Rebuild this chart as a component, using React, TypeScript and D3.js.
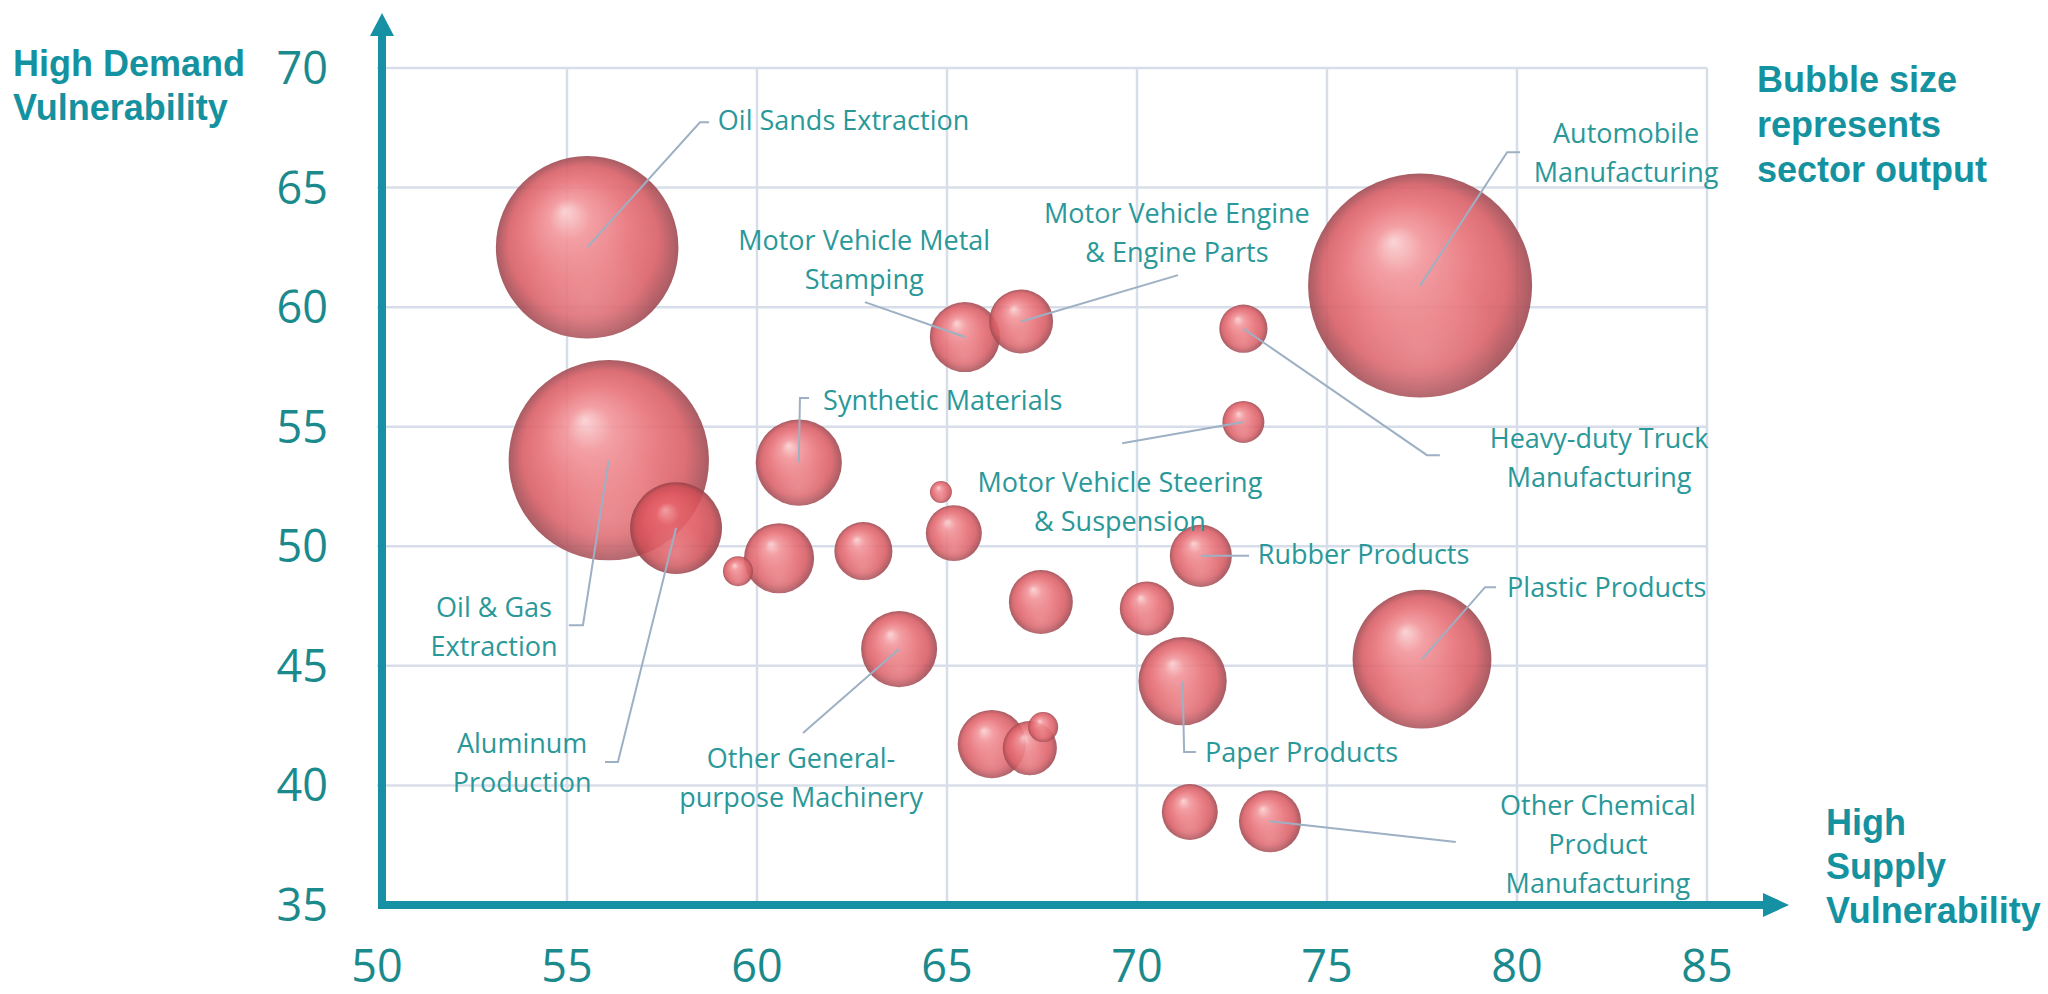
import React from "react";
import * as d3 from "d3";

const W = 2048;
const H = 994;

// Axis ticks
const xTicks = [50, 55, 60, 65, 70, 75, 80, 85];
const yTicks = [35, 40, 45, 50, 55, 60, 65, 70];

// Bubbles: supply vulnerability (x), demand vulnerability (y), sector output (size)
const names = [
  "Automobile Manufacturing",
  "Oil & Gas Extraction",
  "Oil Sands Extraction",
  "Plastic Products",
  "Aluminum Production",
  "Paper Products",
  "Synthetic Materials",
  "Other General-purpose Machinery",
  "Motor Vehicle Metal Stamping",
  "",
  "",
  "Motor Vehicle Engine & Engine Parts",
  "",
  "Rubber Products",
  "Other Chemical Product Manufacturing",
  "",
  "",
  "",
  "",
  "",
  "Heavy-duty Truck Manufacturing",
  "Motor Vehicle Steering & Suspension",
  "",
  "",
  "",
];
const supply = [77.45, 56.1, 55.53, 77.5, 57.87, 71.2, 61.1, 63.74, 65.47, 60.58, 66.18, 66.95, 67.47, 71.68, 73.5, 62.8, 65.18, 71.39, 70.26, 67.18, 72.8, 72.8, 59.5, 67.53, 64.84];
const demand = [60.9, 53.6, 62.5, 45.28, 50.76, 44.36, 53.5, 45.7, 58.75, 49.5, 41.73, 59.4, 47.67, 49.6, 38.5, 49.8, 50.55, 38.89, 47.4, 41.56, 59.1, 55.2, 48.96, 42.44, 52.27];
const output = [125, 100, 83, 48, 21, 19.4, 18.5, 14.4, 12.25, 12.25, 11.6, 10.2, 10.2, 9.6, 9.6, 8.4, 7.8, 7.8, 7.3, 7.3, 5.8, 4.4, 2.25, 2.25, 1.2];

// Annotations (label text lines, anchor, label position in data units, leader points in data units)
const annBubble = [2, 1, 4, 6, 8, 11, 20, 21, 13, 3, 5, 14, 7, 0];
const annLines = [
  ["Oil Sands Extraction"],
  ["Oil & Gas", "Extraction"],
  ["Aluminum", "Production"],
  ["Synthetic Materials"],
  ["Motor Vehicle Metal", "Stamping"],
  ["Motor Vehicle Engine", "& Engine Parts"],
  ["Heavy-duty Truck", "Manufacturing"],
  ["Motor Vehicle Steering", "& Suspension"],
  ["Rubber Products"],
  ["Plastic Products"],
  ["Paper Products"],
  ["Other Chemical", "Product", "Manufacturing"],
  ["Other General-", "purpose Machinery"],
  ["Automobile", "Manufacturing"],
];
const annAnchor = ["start", "middle", "middle", "start", "middle", "middle", "middle", "middle", "start", "start", "start", "middle", "middle", "middle"];
const annTextX = [58.97, 53.08, 53.82, 61.74, 62.82, 71.05, 82.16, 69.55, 73.18, 79.74, 71.79, 82.13, 61.16, 82.87];
const annTextY = [67.82, 47.46, 41.77, 56.11, 62.8, 63.93, 54.52, 52.68, 49.67, 48.29, 41.4, 39.18, 41.15, 67.27];
const annLeader: [number, number][][] = [
  [[58.5, 67.73], [58.74, 67.73]],
  [[55.42, 46.7], [55.05, 46.7]],
  [[56.34, 40.98], [56.0, 40.98]],
  [[61.13, 56.2], [61.37, 56.2]],
  [[62.84, 60.21]],
  [[71.08, 61.34]],
  [[77.63, 53.81], [77.97, 53.81]],
  [[69.61, 54.31]],
  [[72.95, 49.6]],
  [[79.16, 48.29], [79.45, 48.29]],
  [[71.24, 41.4], [71.55, 41.4]],
  [[78.39, 37.63]],
  [[61.21, 42.19]],
  [[79.74, 66.48], [80.08, 66.48]],
];

const AXIS = "#1690a3";
const TICK = "#1b8a8d";
const TITLE = "#1492a0";
const LABEL = "#2a9899";
const GRID = "#d7deea";
const LEADER = "#9eb0c4";
const RED_BUBBLE = 4; // the overlapping Aluminum bubble renders in a deeper red

export default function App() {
  const x = d3.scaleLinear().domain([50, 85]).range([377, 1707]);
  const y = d3.scaleLinear().domain([35, 70]).range([905, 68]);
  const r = d3.scaleSqrt().domain([0, 125]).range([0, 112]);

  const idx = d3.range(supply.length).sort((a, b) => output[b] - output[a]);
  const line = d3.line<[number, number]>().x((d) => x(d[0])).y((d) => y(d[1]));

  const axisX = x(50) + 5;
  const axisY = y(35);

  return (
    <div style={{ position: "absolute", left: 0, top: 0, width: W, height: H, background: "#fff" }}>
      <svg width={W} height={H} viewBox={`0 0 ${W} ${H}`} style={{ display: "block" }}>
        <defs>
          <radialGradient id="sphere" cx="0.5" cy="0.5" r="0.5" fx="0.38" fy="0.3">
            <stop offset="0%" stopColor="#fbd0d2" />
            <stop offset="22%" stopColor="#f2969b" />
            <stop offset="55%" stopColor="#e8737a" />
            <stop offset="82%" stopColor="#d95f67" />
            <stop offset="100%" stopColor="#9f4b53" />
          </radialGradient>
          <radialGradient id="sphereRed" cx="0.5" cy="0.5" r="0.5" fx="0.38" fy="0.3">
            <stop offset="0%" stopColor="#f4a4a8" />
            <stop offset="25%" stopColor="#e8656c" />
            <stop offset="60%" stopColor="#de5860" />
            <stop offset="85%" stopColor="#cc4e56" />
            <stop offset="100%" stopColor="#96434a" />
          </radialGradient>
          <radialGradient id="reflect" cx="0.5" cy="0.78" r="0.35">
            <stop offset="0%" stopColor="#f2a2a6" stopOpacity="0.4" />
            <stop offset="100%" stopColor="#f2a2a6" stopOpacity="0" />
          </radialGradient>
        </defs>

        {/* grid */}
        <g>
          {xTicks.filter((t) => t > 50).map((t) => (
            <line key={"gx" + t} x1={x(t)} x2={x(t)} y1={y(70)} y2={y(35)} stroke={GRID} strokeWidth={2.5} />
          ))}
          {yTicks.filter((t) => t > 35).map((t) => (
            <line key={"gy" + t} x1={x(50)} x2={x(85)} y1={y(t)} y2={y(t)} stroke={GRID} strokeWidth={2.5} />
          ))}
        </g>

        {/* bubbles */}
        <g>
          {idx.map((i) => (
            <g key={"b" + i} opacity={0.9}>
              <title>{names[i]}</title>
              <circle
                cx={x(supply[i])}
                cy={y(demand[i])}
                r={r(output[i])}
                fill={i === RED_BUBBLE ? "url(#sphereRed)" : "url(#sphere)"}
              />
              <circle cx={x(supply[i])} cy={y(demand[i])} r={r(output[i])} fill="url(#reflect)" />
            </g>
          ))}
        </g>

        {/* leader lines */}
        <g fill="none" stroke={LEADER} strokeWidth={2}>
          {annBubble.map((bi, k) => (
            <path
              key={"l" + k}
              d={line([[supply[bi], demand[bi]] as [number, number], ...annLeader[k]]) || ""}
            />
          ))}
        </g>

        {/* labels */}
        <g fontFamily="'Open Sans', sans-serif" fontSize={27} fill={LABEL}>
          {annLines.map((lines, k) => (
            <text key={"t" + k} x={x(annTextX[k])} y={y(annTextY[k]) + 10} textAnchor={annAnchor[k] as any}>
              {lines.map((s, j) => (
                <tspan key={j} x={x(annTextX[k])} dy={j === 0 ? 0 : 39}>
                  {s}
                </tspan>
              ))}
            </text>
          ))}
        </g>

        {/* axes */}
        <g fill={AXIS}>
          <line x1={axisX} x2={axisX} y1={axisY + 4} y2={36} stroke={AXIS} strokeWidth={8} />
          <polygon points={`${axisX - 12},36 ${axisX + 12},36 ${axisX},13`} />
          <line x1={axisX - 4} x2={1764} y1={axisY} y2={axisY} stroke={AXIS} strokeWidth={8} />
          <polygon points={`1763,${axisY - 12} 1763,${axisY + 12} 1789,${axisY}`} />
        </g>

        {/* tick labels */}
        <g fontFamily="'Open Sans', sans-serif" fontSize={45} fill={TICK}>
          {yTicks.map((t) => (
            <text key={"yt" + t} x={328} y={y(t) + 16} textAnchor="end">
              {t}
            </text>
          ))}
          {xTicks.map((t) => (
            <text key={"xt" + t} x={x(t)} y={982} textAnchor="middle">
              {t}
            </text>
          ))}
        </g>

        {/* titles */}
        <g fontFamily="'Liberation Sans', Arial, sans-serif" fontWeight="bold" fontSize={36} fill={TITLE}>
          <text x={13} y={76}>
            <tspan x={13}>High Demand</tspan>
            <tspan x={13} dy={44}>Vulnerability</tspan>
          </text>
          <text x={1757} y={92}>
            <tspan x={1757}>Bubble size</tspan>
            <tspan x={1757} dy={45}>represents</tspan>
            <tspan x={1757} dy={45}>sector output</tspan>
          </text>
          <text x={1826} y={835}>
            <tspan x={1826}>High</tspan>
            <tspan x={1826} dy={44}>Supply</tspan>
            <tspan x={1826} dy={44}>Vulnerability</tspan>
          </text>
        </g>
      </svg>
    </div>
  );
}
